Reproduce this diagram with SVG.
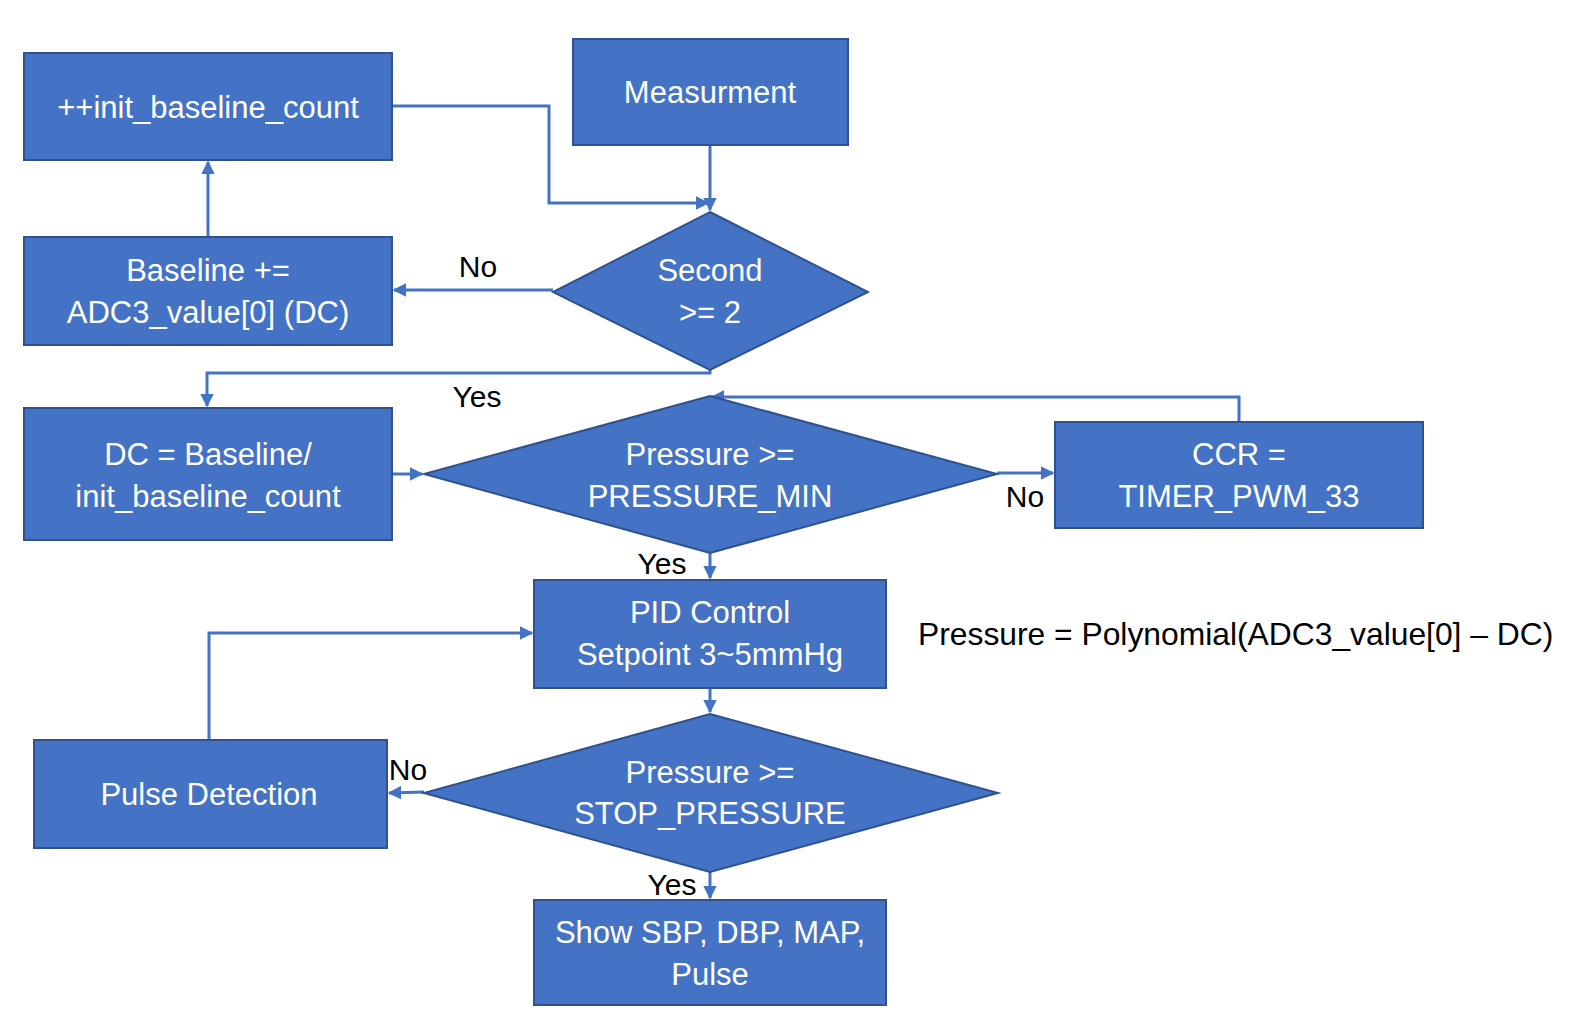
<svg xmlns="http://www.w3.org/2000/svg" width="1570" height="1034" viewBox="0 0 1570 1034">
<style>
.n{fill:#4472C4;stroke:#2F528F;stroke-width:2}
.t{fill:#fff;font-family:"Liberation Sans",Arial,sans-serif;font-size:31px;text-anchor:middle}
.l{fill:#000;font-family:"Liberation Sans",Arial,sans-serif;font-size:30px;text-anchor:middle}
.c{fill:none;stroke:#4472C4;stroke-width:3}
</style>
<defs>
<marker id="a" viewBox="0 0 10 10" refX="9" refY="5" markerWidth="4.5" markerHeight="4.5" orient="auto" markerUnits="strokeWidth">
<path d="M0,0L10,5L0,10z" fill="#4472C4"/>
</marker>
</defs>
<rect width="1570" height="1034" fill="#fff"/>
<g id="connectors">
<path class="c" d="M392,106H549V203H708" marker-end="url(#a)"/>
<path class="c" d="M710,145V210" marker-end="url(#a)"/>
<path class="c" d="M208,237V162" marker-end="url(#a)"/>
<path class="c" d="M553,290H394" marker-end="url(#a)"/>
<path class="c" d="M710,370V373H207V406" marker-end="url(#a)"/>
<path class="c" d="M392,474H422" marker-end="url(#a)"/>
<path class="c" d="M997,473H1053" marker-end="url(#a)"/>
<path class="c" d="M1239,422V397H712" marker-end="url(#a)"/>
<path class="c" d="M710,553V578" marker-end="url(#a)"/>
<path class="c" d="M710,688V712" marker-end="url(#a)"/>
<path class="c" d="M424,792L389,793" marker-end="url(#a)"/>
<path class="c" d="M209,740V633H532" marker-end="url(#a)"/>
<path class="c" d="M710,872V898" marker-end="url(#a)"/>
</g>
<g id="init_count"><rect class="n" x="24" y="53" width="368" height="107"/><text class="t" x="208" y="118">++init_baseline_count</text></g>
<g id="measurment"><rect class="n" x="573" y="39" width="275" height="106"/><text class="t" x="710" y="103">Measurment</text></g>
<g id="baseline"><rect class="n" x="24" y="237" width="368" height="108"/><text class="t" x="208" y="281">Baseline +=</text><text class="t" x="208" y="323">ADC3_value[0] (DC)</text></g>
<g id="second"><polygon class="n" points="710,212 868,292 710,370 553,292"/><text class="t" x="710" y="281">Second</text><text class="t" x="710" y="323">&gt;= 2</text></g>
<g id="dc"><rect class="n" x="24" y="408" width="368" height="132"/><text class="t" x="208" y="465">DC = Baseline/</text><text class="t" x="208" y="507">init_baseline_count</text></g>
<g id="pmin"><polygon class="n" points="710,396 997,474 710,553 424,474"/><text class="t" x="710" y="465">Pressure &gt;=</text><text class="t" x="710" y="507">PRESSURE_MIN</text></g>
<g id="ccr"><rect class="n" x="1055" y="422" width="368" height="106"/><text class="t" x="1239" y="465">CCR =</text><text class="t" x="1239" y="507">TIMER_PWM_33</text></g>
<g id="pid"><rect class="n" x="534" y="580" width="352" height="108"/><text class="t" x="710" y="623">PID Control</text><text class="t" x="710" y="665">Setpoint 3~5mmHg</text></g>
<g id="pstop"><polygon class="n" points="710,714 998,793 710,872 424,793"/><text class="t" x="710" y="783">Pressure &gt;=</text><text class="t" x="710" y="824">STOP_PRESSURE</text></g>
<g id="pulse"><rect class="n" x="34" y="740" width="353" height="108"/><text class="t" x="209" y="805">Pulse Detection</text></g>
<g id="show"><rect class="n" x="534" y="900" width="352" height="105"/><text class="t" x="710" y="943">Show SBP, DBP, MAP,</text><text class="t" x="710" y="985">Pulse</text></g>
<g id="labels">
<text class="l" x="478" y="277">No</text>
<text class="l" x="477" y="407">Yes</text>
<text class="l" x="1025" y="507">No</text>
<text class="l" x="662" y="574">Yes</text>
<text class="l" x="408" y="780">No</text>
<text class="l" x="672" y="895">Yes</text>
<text class="l" x="918" y="645" style="text-anchor:start;font-size:31.8px">Pressure = Polynomial(ADC3_value[0] – DC)</text>
</g>
</svg>
